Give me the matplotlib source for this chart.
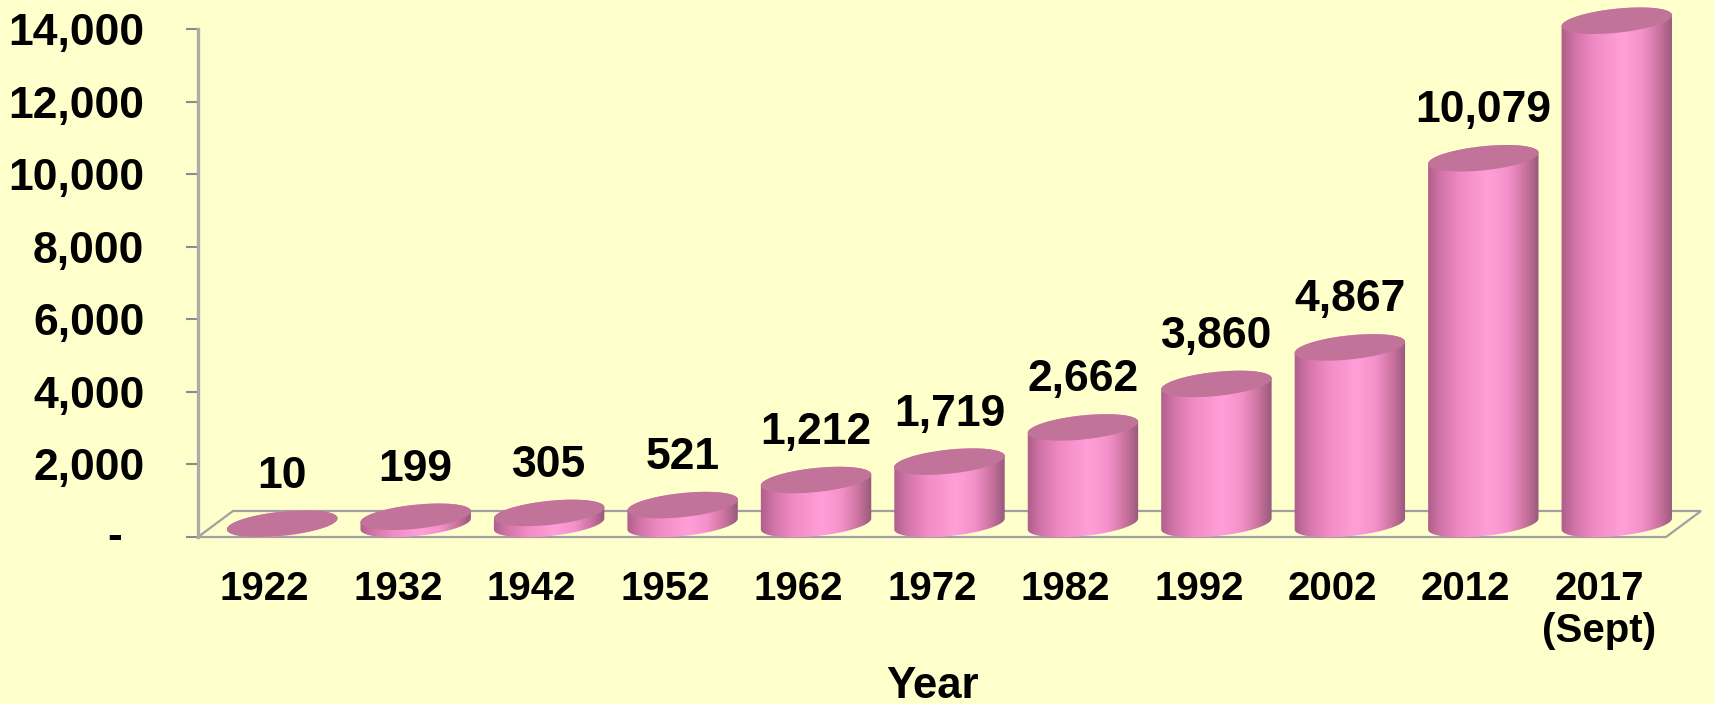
import numpy as np
import matplotlib
matplotlib.use('Agg')
import matplotlib.pyplot as plt
from matplotlib.path import Path
from matplotlib.patches import PathPatch, Polygon
from matplotlib.colors import LinearSegmentedColormap

# ---------------- data ----------------
years = ['1922', '1932', '1942', '1952', '1962', '1972', '1982', '1992', '2002', '2012', '2017\n(Sept)']
values = [10, 199, 305, 521, 1212, 1719, 2662, 3860, 4867, 10079, 13870]
value_labels = ['10', '199', '305', '521', '1,212', '1,719', '2,662', '3,860', '4,867', '10,079', '']
y_ticks = [0, 2000, 4000, 6000, 8000, 10000, 12000, 14000]
y_tick_labels = ['', '2,000', '4,000', '6,000', '8,000', '10,000', '12,000', '14,000']
zero_label = '-'
x_title = 'Year'

# ---------------- style ----------------
FONT = 'Liberation Sans'
plt.rcParams['font.family'] = [FONT, 'DejaVu Sans']
plt.rcParams['font.weight'] = 'bold'
plt.rcParams['axes.labelweight'] = 'bold'
BG = '#FFFFCC'
GRID_GRAY = '#A0A0A0'
TOP_COLOR = '#C27399'
body_cmap = LinearSegmentedColormap.from_list('cyl', [
    (0.00, '#AC5E88'), (0.12, '#D274A8'), (0.30, '#F28BC5'),
    (0.55, '#FF9FD8'), (0.72, '#F491CB'), (0.88, '#C9719C'), (1.00, '#92577A')])

W, H = 1714, 704
fig = plt.figure(figsize=(W / 100, H / 100), dpi=100)
fig.patch.set_facecolor(BG)
ax = fig.add_axes([0, 0, 1, 1])
ax.patch.set_visible(False)

# layout (pixels)
ax_left_px, ax_right_px = 198, 1666
y0_px, ytop_px = 537, 29
ymax = y_ticks[-1]
n = len(years)
sx = (ax_right_px - ax_left_px) / n        # px per category
sy = (y0_px - ytop_px) / ymax               # px per unit
xlim = (-0.5 - ax_left_px / sx, n - 0.5 + (W - ax_right_px) / sx)
ylim = (-(H - y0_px) / sy, ymax + ytop_px / sy)

# depth of floor (px)
back_dx, back_dy = 35, 26
ddx, ddy = back_dx / sx, back_dy / sy
hdx, hdy = ddx / 2, ddy / 2

# floor outline
fx0, fx1 = -0.5, n - 0.5
floor = Polygon([(fx0, 0), (fx1, 0), (fx1 + ddx, ddy), (fx0 + ddx, ddy)], closed=True,
                facecolor='none', edgecolor=GRID_GRAY, lw=1.6, zorder=1)
ax.add_patch(floor)

# cylinders
a_px, b_px, tilt = 55.5, 12.0, np.deg2rad(6)

def ell(cx, cy, tt):
    ex = a_px * np.cos(tt) * np.cos(tilt) - b_px * np.sin(tt) * np.sin(tilt)
    ey = a_px * np.cos(tt) * np.sin(tilt) + b_px * np.sin(tt) * np.cos(tilt)
    return cx + ex / sx, cy + ey / sy

grad = np.linspace(0, 1, 256)[None, :]
for i, (v, lbl) in enumerate(zip(values, value_labels)):
    cx, cy = i + hdx, hdy
    z = 3 + i * 0.01
    tb = np.linspace(np.pi, 2 * np.pi, 90)
    tt = np.linspace(0, np.pi, 90)
    bx, by = ell(cx, cy, tb)
    tx, ty = ell(cx, cy + v, tt)
    verts = np.concatenate([np.column_stack([bx, by]), np.column_stack([tx, ty]), [[bx[0], by[0]]]])
    codes = [Path.MOVETO] + [Path.LINETO] * (len(verts) - 2) + [Path.CLOSEPOLY]
    body = PathPatch(Path(verts, codes), facecolor='none', edgecolor='none', zorder=z)
    ax.add_patch(body)
    half_w = a_px * np.cos(tilt) / sx
    im = ax.imshow(grad, cmap=body_cmap, aspect='auto', interpolation='bilinear',
                   extent=[cx - half_w - 1 / sx, cx + half_w + 1 / sx, cy - 30 / sy, cy + v + 30 / sy],
                   zorder=z)
    im.set_clip_box(None)
    im.set_clip_path(body)
    ex_, ey_ = ell(cx, cy + v, np.linspace(0, 2 * np.pi, 181))
    ax.add_patch(Polygon(np.column_stack([ex_, ey_]), closed=True, facecolor=TOP_COLOR,
                         edgecolor='none', zorder=z + 0.001, clip_on=False))
    if lbl:
        ax.annotate(lbl, xy=(cx, cy + v), xytext=(0, 36 * 0.72), textcoords='offset points',
                    ha='center', va='baseline', fontsize=32, fontweight='bold', zorder=10)

# axes / ticks
for s in ['top', 'right']:
    ax.spines[s].set_visible(False)
ax.spines['bottom'].set_position(('data', 0))
ax.spines['bottom'].set_visible(False)
ax.spines['left'].set_position(('data', -0.5))
ax.spines['left'].set_bounds(0, ymax)
ax.spines['left'].set_color('#ABABAB')
ax.spines['left'].set_linewidth(2.4)

ax.set_yticks(y_ticks, y_tick_labels)
ax.tick_params(axis='y', direction='out', length=12 * 0.72, width=1.5, color='#8C8C8C',
               pad=30, labelsize=32)
ax.annotate(zero_label, xy=(-0.5, 0), xytext=(-(198 - 122) * 0.72, 0), textcoords='offset points',
            ha='right', va='center', fontsize=32, fontweight='bold')

ax.set_xticks(range(n), years)
ax.tick_params(axis='x', length=0, pad=24, labelsize=29)
for t_ in ax.get_xticklabels():
    t_.set_linespacing(1.12)

ax.set_xlabel(x_title, fontsize=31.5, fontweight='bold')
ax.xaxis.set_label_coords(932 / W, (H - 666) / H)

ax.set_xlim(*xlim)
ax.set_ylim(*ylim)

fig.savefig('out.png', dpi=100, facecolor=BG)
